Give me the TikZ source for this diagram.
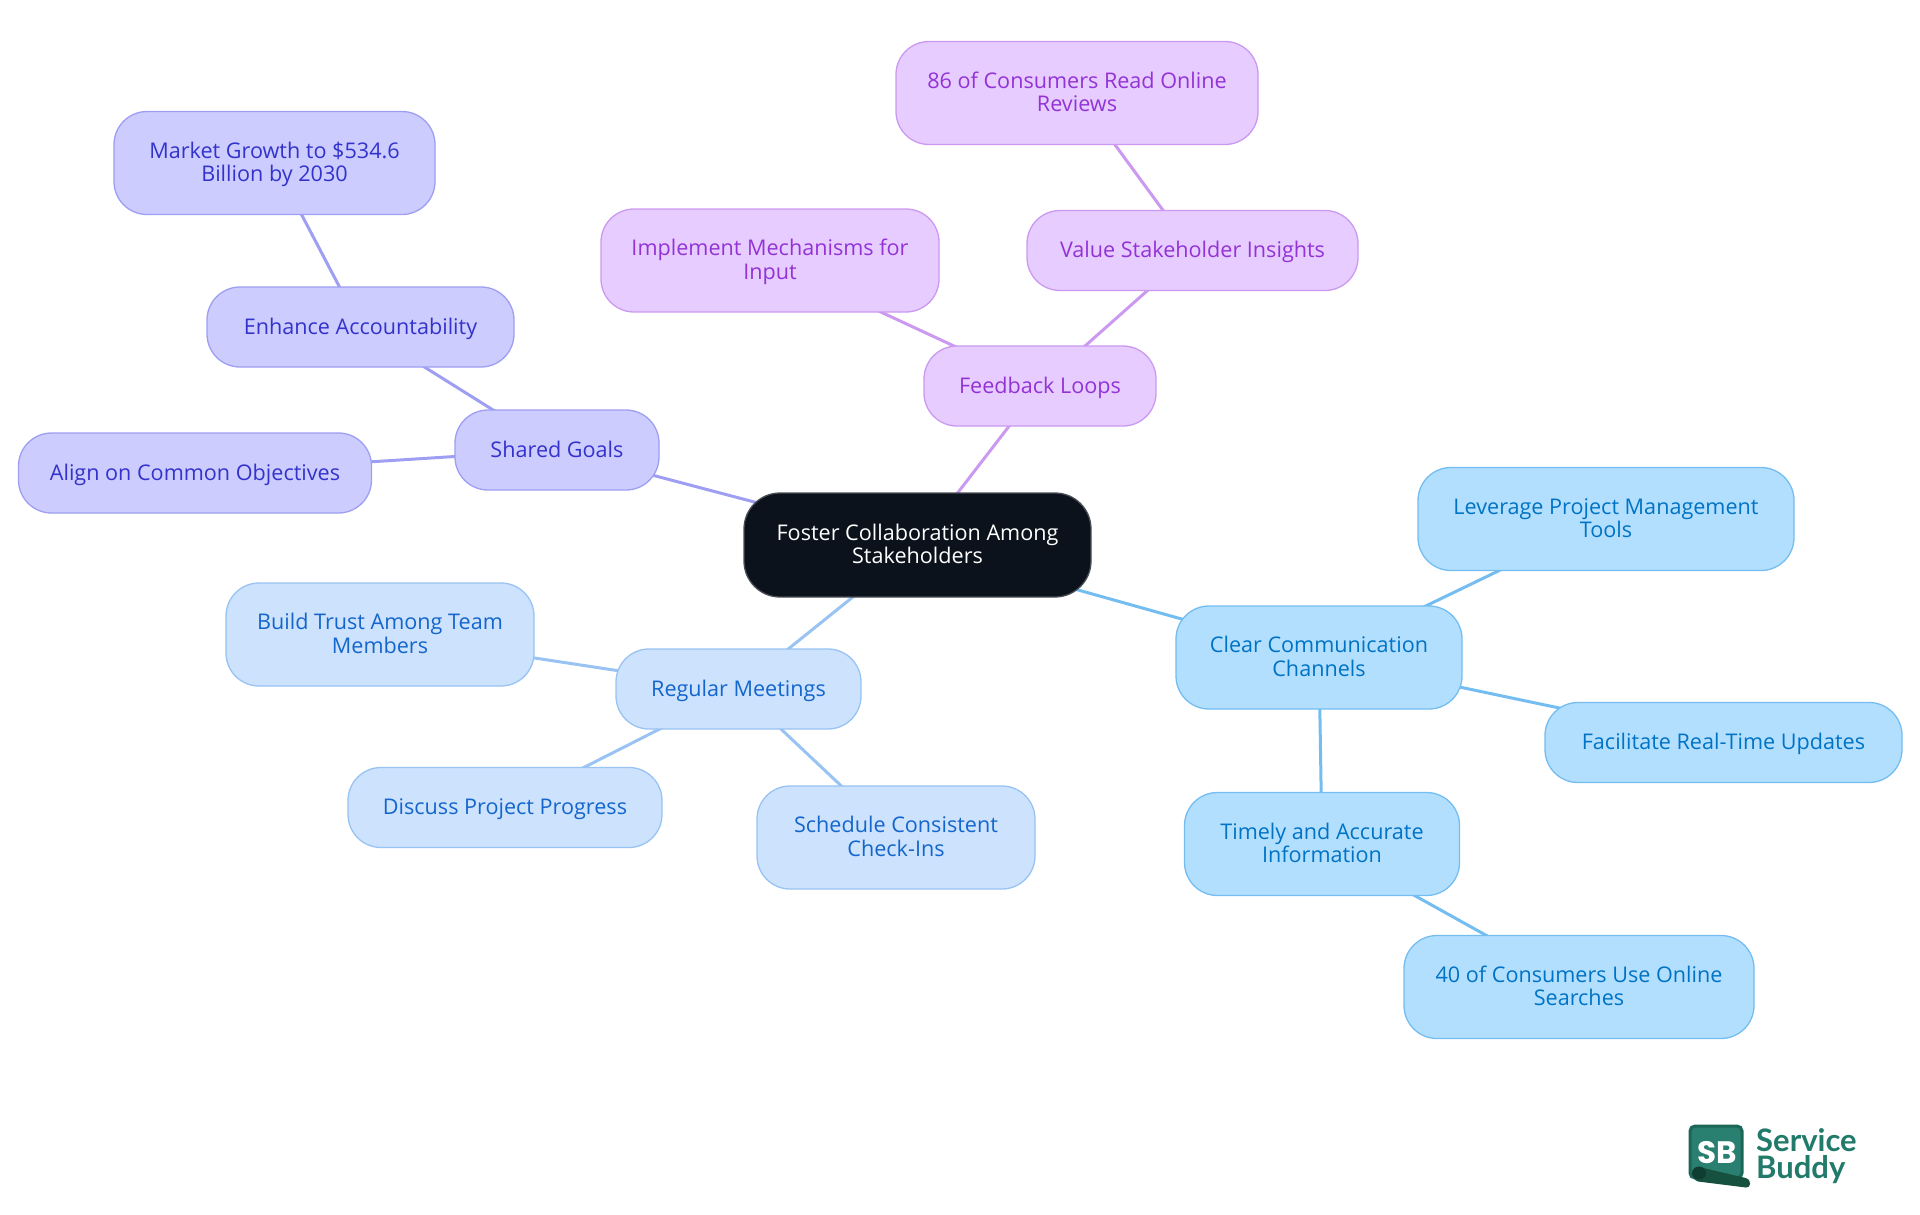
\documentclass[tikz,border=0pt]{standalone}
\usepackage{fontspec}
\usepackage{xcolor}
\usetikzlibrary{backgrounds}
\setmainfont{Open Sans}
\newfontfamily\logofont{Lato}
\newfontfamily\badgefont{Poppins}
\definecolor{rootfill}{HTML}{0B121B}
\definecolor{rootline}{HTML}{4A4F55}
\definecolor{purplefill}{HTML}{E6CCFF}
\definecolor{purpleline}{HTML}{CC99F0}
\definecolor{purpletext}{HTML}{9333D6}
\definecolor{indigofill}{HTML}{CCCCFF}
\definecolor{indigoline}{HTML}{9E9EF2}
\definecolor{indigotext}{HTML}{3333CC}
\definecolor{bluefill}{HTML}{CCE2FD}
\definecolor{blueline}{HTML}{99C3F2}
\definecolor{bluetext}{HTML}{1566CC}
\definecolor{skyfill}{HTML}{B3DFFF}
\definecolor{skyline}{HTML}{73BDF0}
\definecolor{skytext}{HTML}{0073C4}
\definecolor{logogreen}{HTML}{2A8070}
\definecolor{logoedge}{HTML}{1B6656}
\definecolor{logotext}{HTML}{227A6A}
\definecolor{logodark}{HTML}{16503F}
\definecolor{logoroll}{HTML}{0F3D30}
\tikzset{
  mapnode/.style={rounded corners=33pt,line width=1.3pt,align=center,inner sep=0pt,
    font=\fontsize{21.6}{23.5}\selectfont,
    execute at begin node=\rule{0pt}{21.5pt},execute at end node=\strut},
  twolines/.style={minimum height=103pt,execute at begin node=\rule{0pt}{45pt}},
  oneline/.style={minimum height=80pt},
  rootnode/.style={mapnode,twolines,fill=rootfill,draw=rootline,text=white,rounded corners=36pt,
    minimum width=347pt,minimum height=104pt},
  purplenode/.style={mapnode,fill=purplefill,draw=purpleline,text=purpletext},
  indigonode/.style={mapnode,fill=indigofill,draw=indigoline,text=indigotext},
  bluenode/.style={mapnode,fill=bluefill,draw=blueline,text=bluetext},
  skynode/.style={mapnode,fill=skyfill,draw=skyline,text=skytext},
  link/.style={line width=3pt}
}
\begin{document}
\begin{tikzpicture}[x=1pt,y=-1pt]
\useasboundingbox (0,0) rectangle (1920,1215);
\node[rootnode] (root) at (917.5,545) {Foster Collaboration Among\\Stakeholders};
\node[purplenode,oneline,minimum width=232pt] (feedback) at (1040,386) {Feedback Loops};
\node[purplenode,oneline,minimum width=331pt] (insights) at (1192.5,250.5) {Value Stakeholder Insights};
\node[purplenode,twolines,minimum width=362pt] (reviews) at (1077,93) {86 of Consumers Read Online\\Reviews};
\node[purplenode,twolines,minimum width=338pt] (input) at (770,260.5) {Implement Mechanisms for\\Input};
\node[indigonode,oneline,minimum width=204pt] (goals) at (557,450) {Shared Goals};
\node[indigonode,oneline,minimum width=307pt] (account) at (360.5,327) {Enhance Accountability};
\node[indigonode,twolines,minimum width=321pt] (market) at (274.5,163) {Market Growth to \$534.6\\Billion by 2030};
\node[indigonode,oneline,minimum width=353pt] (align) at (195,473) {Align on Common Objectives};
\node[bluenode,oneline,minimum width=245pt] (meetings) at (738.5,689) {Regular Meetings};
\node[bluenode,twolines,minimum width=308pt] (trust) at (380,634.5) {Build Trust Among Team\\Members};
\node[bluenode,oneline,minimum width=314pt] (progress) at (505,807.5) {Discuss Project Progress};
\node[bluenode,twolines,minimum width=278pt] (checkins) at (896,837.5) {Schedule Consistent\\Check-Ins};
\node[skynode,twolines,minimum width=286pt] (channels) at (1319,657.5) {Clear Communication\\Channels};
\node[skynode,twolines,minimum width=376pt] (tools) at (1606,519) {Leverage Project Management\\Tools};
\node[skynode,oneline,minimum width=357pt] (updates) at (1723.5,742.5) {Facilitate Real-Time Updates};
\node[skynode,twolines,minimum width=275pt] (timely) at (1322,844) {Timely and Accurate\\Information};
\node[skynode,twolines,minimum width=350pt] (searches) at (1579,987) {40 of Consumers Use Online\\Searches};
\begin{scope}[on background layer]
\draw[link,purpleline] (root.center)--(feedback.center);
\draw[link,purpleline] (feedback.center)--(insights.center);
\draw[link,purpleline] (insights.center)--(reviews.center);
\draw[link,purpleline] (feedback.center)--(input.center);
\draw[link,indigoline] (root.center)--(goals.center);
\draw[link,indigoline] (goals.center)--(account.center);
\draw[link,indigoline] (account.center)--(market.center);
\draw[link,indigoline] (goals.center)--(align.center);
\draw[link,blueline] (root.center)--(meetings.center);
\draw[link,blueline] (meetings.center)--(trust.center);
\draw[link,blueline] (meetings.center)--(progress.center);
\draw[link,blueline] (meetings.center)--(checkins.center);
\draw[link,skyline] (root.center)--(channels.center);
\draw[link,skyline] (channels.center)--(tools.center);
\draw[link,skyline] (channels.center)--(updates.center);
\draw[link,skyline] (channels.center)--(timely.center);
\draw[link,skyline] (timely.center)--(searches.center);
\end{scope}
\draw[fill=logogreen,draw=logoedge,line width=3pt,rounded corners=5pt] (1690,1126) rectangle (1742,1178);
\node[text=white,inner sep=0pt,font=\badgefont\fontsize{31}{31}\selectfont\bfseries] (logosb) at (1717,1153) {SB};
\fill[logodark,rounded corners=4pt] (1695,1166)--(1750,1179)--(1750,1188)--(1694,1181)--cycle;
\fill[logoroll] (1699,1173) ellipse (7pt and 6.5pt);
\node[text=logotext,inner sep=0pt,anchor=west,align=left,font=\logofont\fontsize{31}{27}\selectfont\bfseries] (logoname) at (1756,1156) {Service\\Buddy};
\end{tikzpicture}
\end{document}
